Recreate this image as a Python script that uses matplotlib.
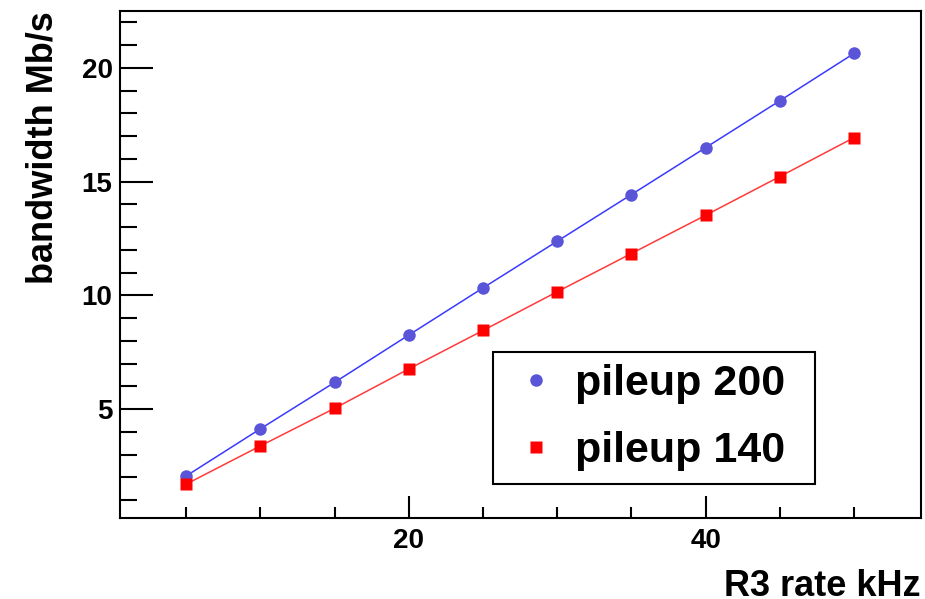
import matplotlib
matplotlib.use("Agg")
import matplotlib.pyplot as plt
from matplotlib.lines import Line2D
from matplotlib.ticker import MultipleLocator

plt.rcParams['font.family'] = ['Liberation Sans', 'DejaVu Sans']
plt.rcParams['font.weight'] = 'bold'

# R3 rate in kHz
rate_khz = [5, 10, 15, 20, 25, 30, 35, 40, 45, 50]
# bandwidth Mb/s
bw_pileup200 = [2.07, 4.14, 6.18, 8.26, 10.33, 12.38, 14.43, 16.49, 18.55, 20.63]
bw_pileup140 = [1.71, 3.39, 5.04, 6.77, 8.46, 10.16, 11.84, 13.52, 15.22, 16.93]
labels = ['pileup 200', 'pileup 140']

fig = plt.figure(figsize=(9.25, 5.99), dpi=100)
ax = fig.add_axes([0.1292, 0.1352, 0.8662, 0.8459])

ax.plot(rate_khz, bw_pileup200, color='#3a3aff', lw=1.1, zorder=2)
ax.plot(rate_khz, bw_pileup200, 'o', color='#5954d8', ms=9, mec='none', zorder=3)
ax.plot(rate_khz, bw_pileup140, color='#ff3a3a', lw=1.1, zorder=2)
ax.plot(rate_khz, bw_pileup140, 's', color='#ff0000', ms=8.6, mec='none', zorder=3)

ax.set_xlim(0.5, 54.5)
ax.set_ylim(0.22, 22.48)

ax.xaxis.set_major_locator(MultipleLocator(20))
ax.xaxis.set_minor_locator(MultipleLocator(5))
ax.yaxis.set_major_locator(MultipleLocator(5))
ax.yaxis.set_minor_locator(MultipleLocator(1))
ax.tick_params(axis='x', which='major', direction='in', length=15.5, width=1.5,
               labelsize=20, pad=7, top=False)
ax.tick_params(axis='x', which='minor', direction='in', length=8, width=1.5, top=False)
ax.tick_params(axis='y', which='major', direction='in', length=24, width=1.5,
               labelsize=20, pad=5, right=False)
ax.tick_params(axis='y', which='minor', direction='in', length=12, width=1.5, right=False)
for lab in ax.get_xticklabels() + ax.get_yticklabels():
    lab.set_fontweight('bold')
for sp in ax.spines.values():
    sp.set_linewidth(1.5)

ax.set_xlabel('R3 rate kHz', fontsize=26, fontweight='bold', loc='right', labelpad=11)
ax.set_ylabel('bandwidth Mb/s', fontsize=26, fontweight='bold', loc='top', labelpad=15)

handles = [
    Line2D([], [], ls='none', marker='o', color='#5954d8', ms=9, mec='none'),
    Line2D([], [], ls='none', marker='s', color='#ff0000', ms=8.6, mec='none'),
]
leg = ax.legend(handles, labels, loc='lower left',
                bbox_to_anchor=(0.466, 0.067, 0.402, 0.266), mode='expand',
                borderaxespad=0, borderpad=0.3, labelspacing=0.62,
                handlelength=1.4, handletextpad=0.2, fancybox=False,
                framealpha=1, edgecolor='black',
                prop={'size': 31, 'weight': 'bold'})
leg.get_frame().set_linewidth(1.5)

fig.savefig('out.png', dpi=100)
